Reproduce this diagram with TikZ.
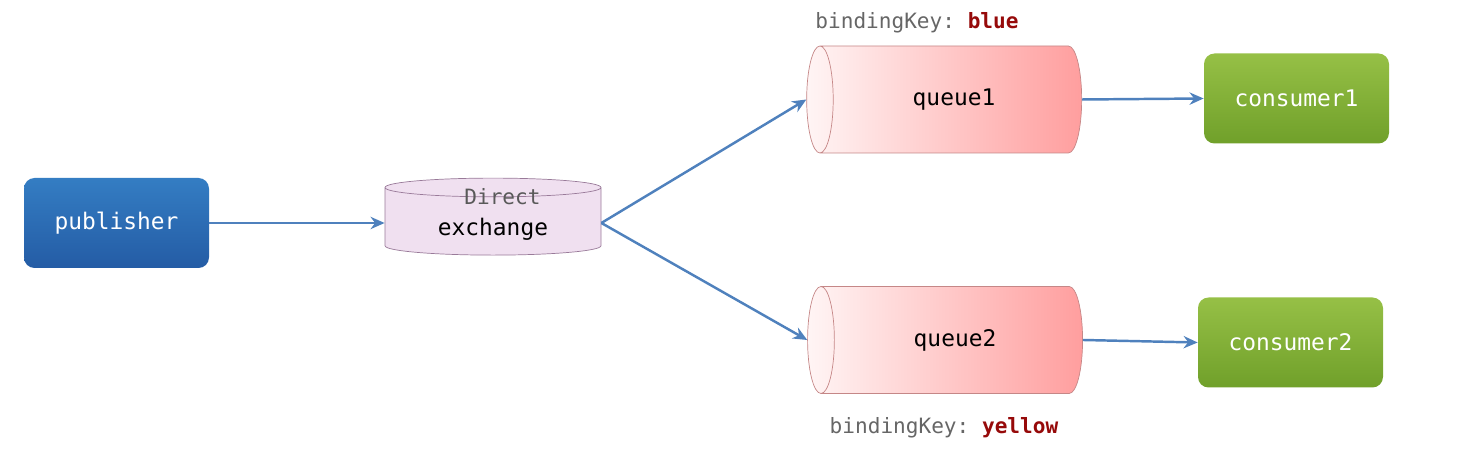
\documentclass[tikz,border=0pt]{standalone}
\usepackage{fontspec}
\setmonofont{DejaVu Sans Mono}
\usetikzlibrary{shapes.geometric,arrows.meta}
\definecolor{linkblue}{RGB}{79,129,189}
\definecolor{keyred}{RGB}{150,10,10}
\definecolor{pubtop}{RGB}{52,125,195}
\definecolor{pubbot}{RGB}{36,92,165}
\definecolor{contop}{RGB}{150,192,70}
\definecolor{conbot}{RGB}{112,160,42}
\tikzset{
    box/.style={rounded corners=6pt, minimum width=3.7cm, minimum height=1.8cm,
        text=white, font=\ttfamily\fontsize{13}{15}\selectfont},
    queue/.style={cylinder, shape border rotate=180, aspect=0.8, draw=red!35!gray!70,
        minimum width=2.14cm, minimum height=5.5cm, left color=red!4, right color=red!38,
        font=\ttfamily\fontsize{13}{15}\selectfont},
    link/.style={-{Stealth[length=8pt,width=7pt]}, linkblue, line width=1.4pt},
    keylabel/.style={font=\ttfamily\fontsize{12}{14}\selectfont, text=gray!80!black}
}
\begin{document}
\begin{tikzpicture}
    \useasboundingbox (0,0) rectangle (29.66,9.16);

    % Producer and exchange
    \node[box, top color=pubtop, bottom color=pubbot] (publisher) at (2.33,4.7) {publisher};
    \node[cylinder, shape border rotate=90, aspect=1.6, draw=violet!30!gray!80,
        minimum height=1.54cm, minimum width=4.32cm, fill=violet!12] (exchange) at (9.86,4.7) {};
    \node[font=\ttfamily\fontsize{12}{14}\selectfont, text=gray!70!black] (direct) at (10.05,5.22) {Direct};
    \node[font=\ttfamily\fontsize{13}{15}\selectfont] (exchangetext) at (9.86,4.57) {exchange};

    % Queues
    \node[queue] (queue1) at (19.08,7.17) {queue1};
    \node[queue] (queue2) at (19.1,2.36) {queue2};

    % Consumers
    \node[box, top color=contop, bottom color=conbot] (consumer1) at (25.93,7.19) {consumer1};
    \node[box, top color=contop, bottom color=conbot] (consumer2) at (25.81,2.31) {consumer2};

    % Binding keys
    \node[keylabel] (key1) at (18.34,8.70) {bindingKey: \textcolor{keyred}{\textbf{blue}}};
    \node[keylabel] (key2) at (18.88,0.60) {bindingKey: \textcolor{keyred}{\textbf{yellow}}};

    % Connections
    \draw[link] (publisher.east) -- (exchange.west);
    \draw[link] (exchange.east) -- (queue1.west);
    \draw[link] (exchange.east) -- (queue2.west);
    \draw[link] (queue1.east) -- (consumer1.west);
    \draw[link] (queue2.east) -- (consumer2.west);

\end{tikzpicture}
\end{document}
